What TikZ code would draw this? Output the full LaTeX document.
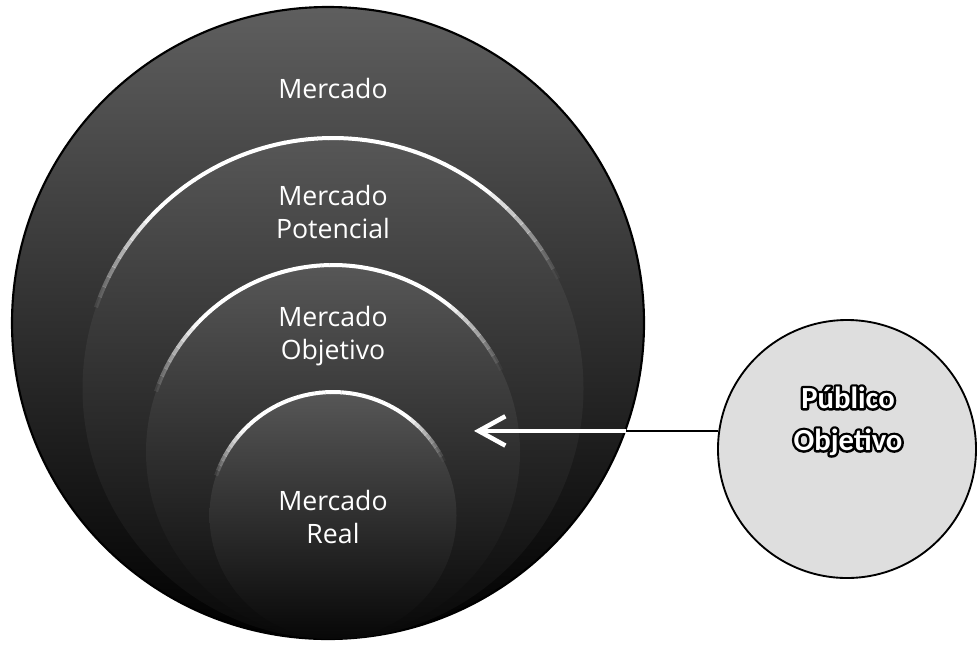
\documentclass[tikz,border=0pt]{standalone}
\usepackage{fontspec}
\setmainfont{Open Sans}
\newfontfamily\pubfont{Carlito}
\usetikzlibrary{arrows.meta}
\begin{document}
\begin{tikzpicture}[x=0.75pt,y=-0.75pt,
  lbl/.style={text=white, font=\fontsize{20}{24.75}\selectfont, align=center, inner sep=0pt},
  plbl/.style={font=\pubfont\bfseries\fontsize{23}{31.5}\selectfont, align=center, inner sep=0pt},
  ring/.style={circle, inner sep=0pt, draw=none, top color=black!66, bottom color=black!97},
  conn/.style={line width=3.4pt}]
\useasboundingbox (0,0) rectangle (980,647);
\fill[white] (0,0) rectangle (980,647);
% outer market
\node[circle, inner sep=0pt, draw=black, line width=1.6pt, minimum size=474pt,
      top color=black!63, bottom color=black] (mkt) at (328,323) {};
% nested circles (tangent at the bottom)
\node[ring, minimum size=375.75pt] (pot) at (333,388.5) {};
\node[ring, minimum size=280.5pt] (obj) at (333,452) {};
\node[ring, minimum size=185.25pt] (real) at (333,515.5) {};
% white highlight arcs on the upper edges
\foreach \cx/\cy/\r in {333/388.5/250.5, 333/452/187, 333/515.5/123.5}{
  \foreach \a in {26,28.5,...,160}{
    \pgfmathsetmacro\op{max(0,min(1,(1-abs(\a-93)/68)*2.6))}
    \draw[white, line width=3pt, opacity=\op]
      ([shift={(-\a:\r)}]\cx,\cy) arc[start angle=-\a, end angle=-\a-2.6, radius=\r];
  }
}
% labels
\node[lbl] (tm) at (333,88) {Mercado};
\node[lbl] (tp) at (333,212) {Mercado\\Potencial};
\node[lbl] (to) at (333,336) {Mercado\\Objetivo};
\node[lbl] (tr) at (333,517) {Mercado\\Real};
% target audience
\node[circle, inner sep=0pt, draw=black, line width=1.4pt, minimum size=193.5pt,
      fill=black!13] (pub) at (847,449) {};
\node[plbl, text=black] (tpubo) at (848,421) {\special{pdf:code 1 Tr 3.6 w 1 j}Público\\Objetivo\special{pdf:code 0 Tr 1 w}};
\node[plbl, text=white] (tpub) at (848,421) {Público\\Objetivo};
% connector
\coordinate (tip) at (474,432);
\draw[black, line width=1.6pt] (pub.172) -- (pub.172 -| mkt.-20);
\draw[conn, white, -{Straight Barb[length=20pt, width=22pt, line width=3.4pt]}]
  (pub.172 -| mkt.-20) -- (pub.172 -| tip);
\end{tikzpicture}
\end{document}
